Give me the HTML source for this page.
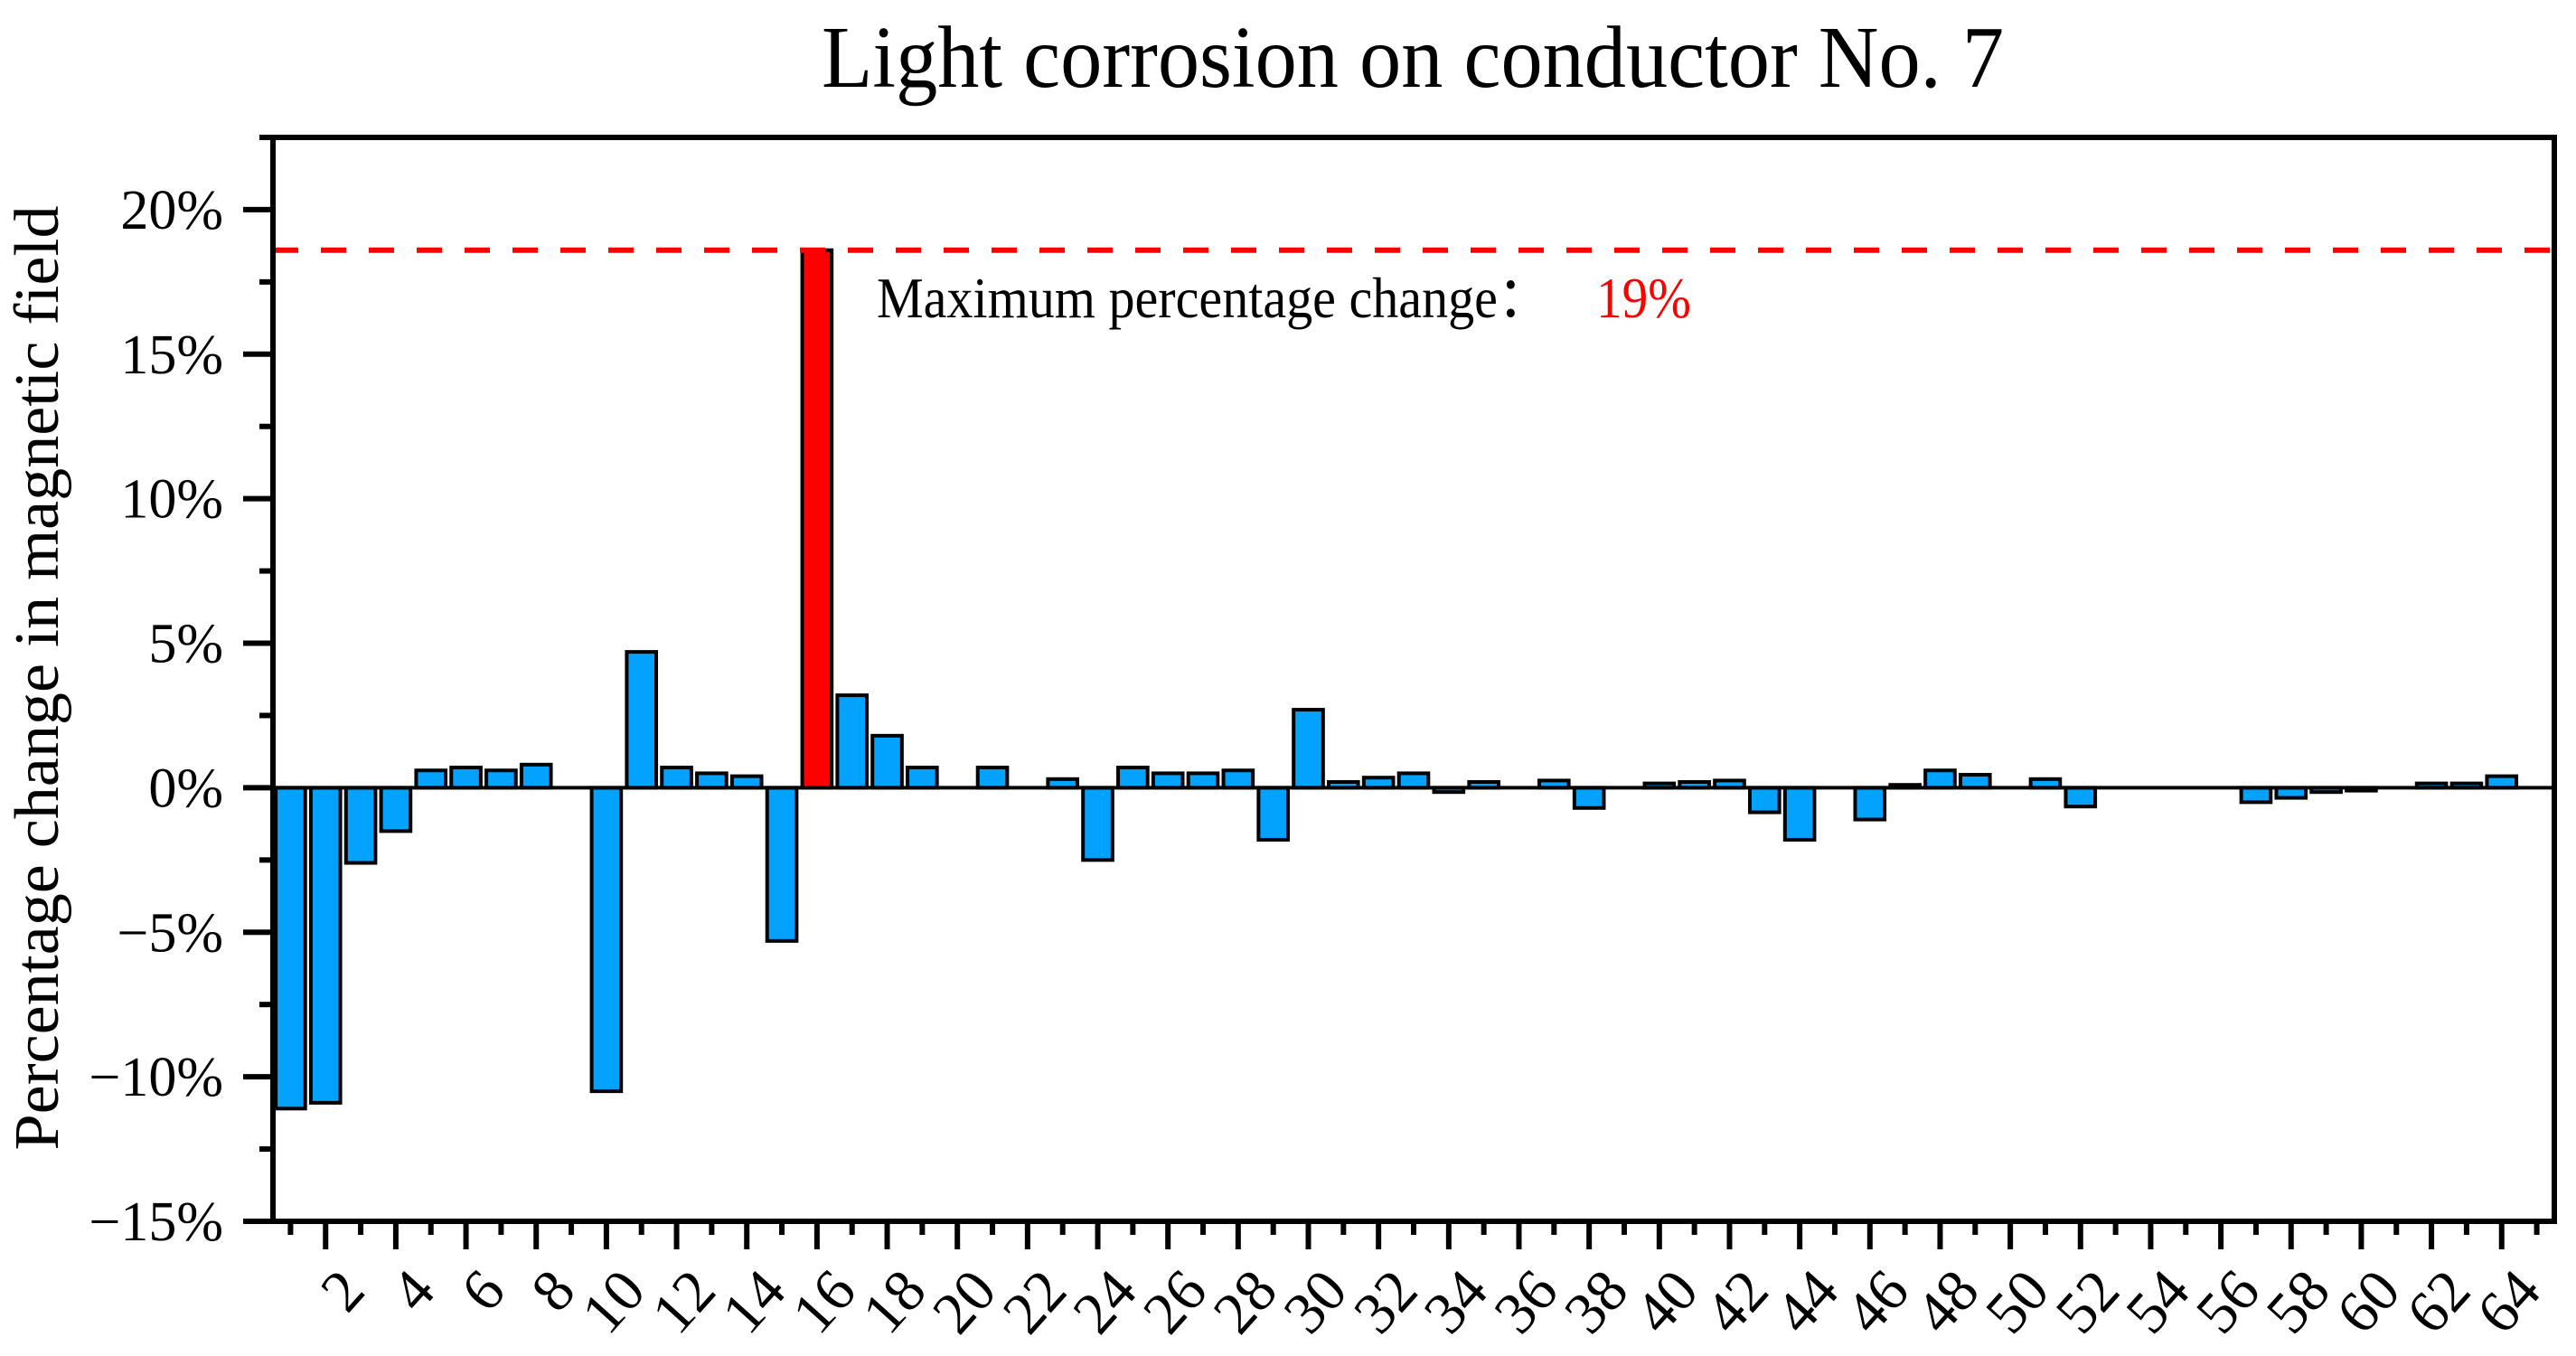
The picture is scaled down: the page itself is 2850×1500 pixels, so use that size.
<!DOCTYPE html>
<html><head><meta charset="utf-8"><style>html,body{margin:0;padding:0;background:#fff}svg{display:block}</style></head>
<body>
<svg id="chart" width="2850" height="1500" viewBox="0 0 2850 1500" xmlns="http://www.w3.org/2000/svg" font-family="'Liberation Serif', serif">
<rect width="2850" height="1500" fill="#fff"/>
<text x="1563" y="96" font-size="98" text-anchor="middle" textLength="1308" lengthAdjust="spacingAndGlyphs">Light corrosion on conductor No. 7</text>
<text transform="translate(64,750) rotate(-90)" font-size="70" text-anchor="middle" textLength="1045" lengthAdjust="spacingAndGlyphs">Percentage change in magnetic field</text>
<g id="bars"></g>
<g id="axes"></g>
<text x="970" y="351" font-size="64" textLength="745" lengthAdjust="spacingAndGlyphs">Maximum percentage change：</text>
<text x="1766" y="351" font-size="64" fill="#ff0000" textLength="105" lengthAdjust="spacingAndGlyphs">19%</text>
</svg>
<script>
const categories = Array.from({length:64},(_,i)=>i+1);
const values = [-11.1,-10.9,-2.6,-1.5,0.6,0.7,0.6,0.8,0,-10.5,
4.7,0.7,0.5,0.4,-5.3,18.6,3.2,1.8,0.7,0,
0.7,0,0.3,-2.5,0.7,0.5,0.5,0.6,-1.8,2.7,
0.2,0.35,0.5,-0.15,0.2,0,0.25,-0.7,0,0.15,
0.2,0.25,-0.85,-1.8,0,-1.1,0.1,0.6,0.45,0,
0.3,-0.65,0,0,0,0,-0.5,-0.35,-0.15,-0.1,
0,0.15,0.15,0.4];
const yTicks = [20,15,10,5,0,-5,-10,-15];
const yTickLabels = ["20%","15%","10%","5%","0%","\u22125%","\u221210%","\u221215%"];
const xTickLabels = ["2","4","6","8","10","12","14","16","18","20","22","24","26","28","30","32","34","36","38","40","42","44","46","48","50","52","54","56","58","60","62","64"];

const NS="http://www.w3.org/2000/svg";
const L=302,R=2826,T=152,B=1351;
const xMin=0.5,xMax=65.5,yMin=-15,yMax=22.5;
const xs=v=>L+(v-xMin)/(xMax-xMin)*(R-L);
const ys=v=>B-(v-yMin)/(yMax-yMin)*(B-T);
function mk(tag,attrs,parent){const e=document.createElementNS(NS,tag);for(const k in attrs)e.setAttribute(k,attrs[k]);parent.appendChild(e);return e;}
const bars=document.getElementById('bars'),axes=document.getElementById('axes');
const slot=(R-L)/(xMax-xMin), bw=slot*0.84;
let maxV=Math.max(...values), maxI=values.indexOf(maxV);
values.forEach((v,i)=>{
  if(v===0)return;
  const c=categories[i];
  const y0=ys(0),y1=ys(v);
  const r=mk('rect',{x:xs(c)-bw/2,y:Math.min(y0,y1),width:bw,height:Math.abs(y1-y0),fill:i===maxI?'#ff0000':'#03a2fe',stroke:'#000','stroke-width':4},bars);
  
  
});
const dl=mk('line',{x1:L,x2:R,y1:ys(maxV),y2:ys(maxV),stroke:'#ff0000','stroke-width':6,'stroke-dasharray':'28 25'},axes);


const zl=mk('line',{x1:L,x2:R,y1:ys(0),y2:ys(0),stroke:'#000','stroke-width':4},axes);


const fr=mk('path',{d:`M${L},${T} H${R} V${B} H${L} Z`,fill:'none',stroke:'#000','stroke-width':6},axes);


for(let v=yMin;v<=yMax+0.01;v+=2.5){
  const major=Math.abs(v%5)<0.01;
  const t=mk('line',{x1:L,x2:L-(major?33:15),y1:ys(v),y2:ys(v),stroke:'#000','stroke-width':6},axes);
  
  
}
yTicks.forEach((v,i)=>{
  const t=mk('text',{x:247,y:ys(v)+21,'font-size':62,'text-anchor':'end'},axes);
  t.textContent=yTickLabels[i];
  
  
});
for(let c=1;c<=65;c++){
  const major=c%2===0;
  const t=mk('line',{x1:xs(c),x2:xs(c),y1:B,y2:B+(major?31:15),stroke:'#000','stroke-width':6},axes);
  
  
}
xTickLabels.forEach(s=>{
  const c=+s;const px=xs(c)+46, py=1430;
  const t=mk('text',{x:px,y:py,'font-size':66,'text-anchor':'end',transform:`rotate(-48 ${px} ${py})`},axes);
  t.textContent=s;
  
  
});
</script>
</body></html>
